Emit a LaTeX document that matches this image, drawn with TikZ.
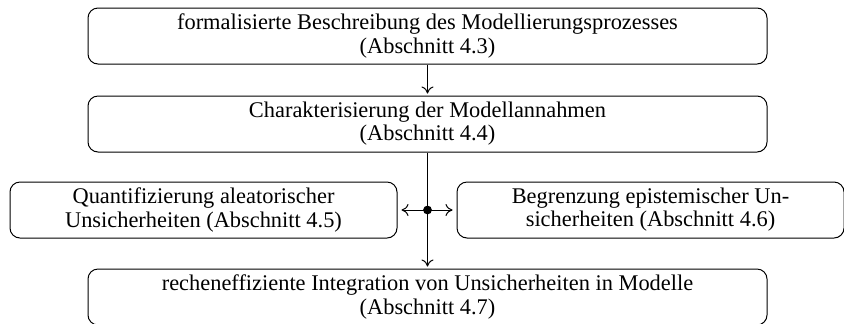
\documentclass[tikz,border=0pt]{standalone}
\usepackage{fontspec}
\setmainfont{Liberation Serif}
\usepackage{tikz}
\usetikzlibrary{arrows.meta}

\tikzset{
  stage/.style={draw, rounded corners=5pt, align=center, minimum height=28pt, inner sep=2pt,
    font=\fontsize{11.2}{11.6}\selectfont},
  wide/.style={stage, minimum width=339.5pt},
  half/.style={stage, minimum width=193.5pt},
  flow/.style={->, shorten >=1pt}
}

\begin{document}
\begin{tikzpicture}[line width=0.5pt, >={Computer Modern Rightarrow[length=3.5pt,width=6pt]}]
    \useasboundingbox (0pt,0pt) rectangle (422pt,-161.5pt);
    \node[wide] (desc) at (213.75pt,-18pt) {formalisierte Beschreibung des Modellierungsprozesses\\(Abschnitt 4.3)};
    \node[wide] (assume) at (213.75pt,-62pt) {Charakterisierung der Modellannahmen\\(Abschnitt 4.4)};
    \node[half] (aleat) at (101.75pt,-105pt) {Quantifizierung aleatorischer\\Unsicherheiten (Abschnitt 4.5)};
    \node[half] (epist) at (325.25pt,-105pt) {Begrenzung epistemischer Un-\\sicherheiten (Abschnitt 4.6)};
    \node[wide] (integ) at (213.75pt,-148.5pt) {recheneffiziente Integration von Unsicherheiten in Modelle\\(Abschnitt 4.7)};
    \coordinate (hub) at (213.75pt,-105pt);
    \draw[flow] (desc) -- (assume);
    \draw (assume) -- (hub);
    \draw[flow] (hub) -- (integ);
    \draw[->, shorten >=2pt] (hub) -- (aleat);
    \draw[->, shorten >=2pt] (hub) -- (epist);
    \fill (hub) circle (2.2pt);
\end{tikzpicture}
\end{document}
